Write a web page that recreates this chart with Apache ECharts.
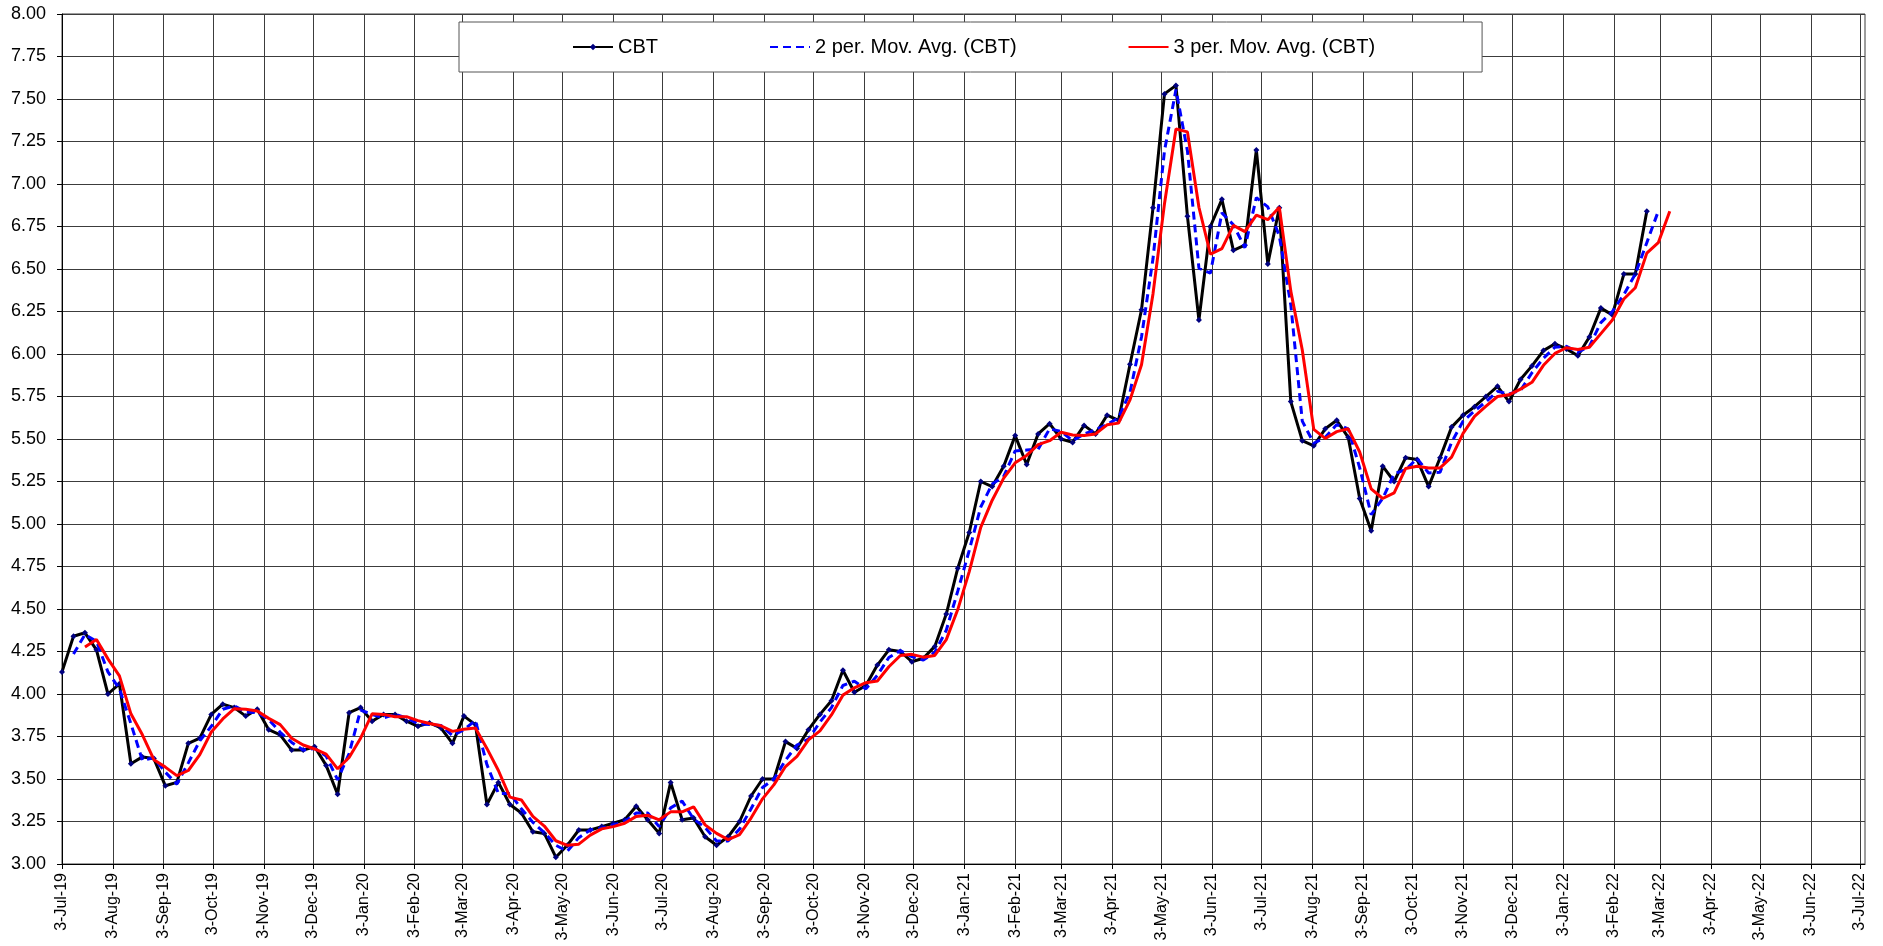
<!DOCTYPE html>
<html>
<head>
<meta charset="utf-8">
<title>CBT</title>
<script src="https://cdn.jsdelivr.net/npm/echarts@6/dist/echarts.min.js"></script>
<style>
  html, body { margin: 0; padding: 0; background: #fff; }
  #chart { width: 1883px; height: 946px; }
</style>
</head>
<body>
<div id="chart"></div>
<script>
// weekly CBT prices, first point 3-Jul-19, one point per week
var firstWeek = [2019, 6, 3];
var cbt = [
	4.13, 4.34, 4.36, 4.26, 4.00, 4.06, 3.59, 3.63, 3.62, 3.46,
	3.48, 3.71, 3.74, 3.88, 3.94, 3.92, 3.87, 3.91, 3.79, 3.76,
	3.67, 3.67, 3.69, 3.58, 3.41, 3.89, 3.92, 3.84, 3.88, 3.88,
	3.84, 3.81, 3.83, 3.80, 3.71, 3.87, 3.82, 3.35, 3.48, 3.35,
	3.30, 3.19, 3.18, 3.04, 3.11, 3.20, 3.20, 3.22, 3.24, 3.26,
	3.34, 3.26, 3.18, 3.48, 3.26, 3.27, 3.16, 3.11, 3.16, 3.25,
	3.40, 3.50, 3.50, 3.72, 3.68, 3.79, 3.88, 3.96, 4.14, 4.01,
	4.05, 4.17, 4.26, 4.25, 4.19, 4.21, 4.28, 4.47, 4.74, 4.95,
	5.25, 5.22, 5.34, 5.52, 5.35, 5.53, 5.59, 5.50, 5.48, 5.58,
	5.53, 5.64, 5.61, 5.94, 6.26, 6.86, 7.53, 7.58, 6.81, 6.20,
	6.75, 6.91, 6.61, 6.64, 7.20, 6.53, 6.86, 5.72, 5.49, 5.46,
	5.56, 5.61, 5.51, 5.15, 4.96, 5.34, 5.25, 5.39, 5.38, 5.22,
	5.39, 5.57, 5.64, 5.69, 5.75, 5.81, 5.72, 5.85, 5.93, 6.02,
	6.06, 6.03, 5.99, 6.10, 6.27, 6.23, 6.47, 6.47, 6.84
];
// the sheet has two empty weeks after the last price
var blankWeeks = 2;
var monthNames = ['Jan','Feb','Mar','Apr','May','Jun','Jul','Aug','Sep','Oct','Nov','Dec'];
var axisStart = [2019, 6, 3];
var axisEnd = [2022, 6, 6];
var tickMonths = 37; // 3-Jul-19 .. 3-Jul-22

var weeks = cbt.length + blankWeeks;
var weekDates = [];
for(var i=0; i<weeks; i++){
	weekDates.push(new Date(firstWeek[0], firstWeek[1], firstWeek[2] + 7*i).getTime());
}
var padded = cbt.slice();
for(var i=0; i<blankWeeks; i++){
	padded.push(null);
}

// excel style moving average trendline (blank cells are skipped)
function movAvg(values, period){
	var out = [];
	for(var i=0; i<values.length; i++){
		if(i < period-1){
			out.push([weekDates[i], null]);
			continue;
		}
		var sum = 0, n = 0;
		for(var j=i-period+1; j<=i; j++){
			if(values[j] != null){
				sum += values[j];
				n++;
			}
		}
		out.push([weekDates[i], n ? sum/n : null]);
	}
	return out;
}

var cbtData = [];
for(var i=0; i<cbt.length; i++){
	cbtData.push([weekDates[i], cbt[i]]);
}
var ticks = [];
for(var m=0; m<tickMonths; m++){
	ticks.push(new Date(axisStart[0], axisStart[1]+m, axisStart[2]).getTime());
}

function dateLabel(v){
	var d = new Date(v);
	return d.getDate() + '-' + monthNames[d.getMonth()] + '-' + String(d.getFullYear()).slice(2);
}

var font = "'Liberation Sans', Arial, sans-serif";
var gridColor = '#3c3c3c';

var chart = echarts.init(document.getElementById('chart'), null, {renderer: 'canvas'});
var option = {
	animation: false,
	backgroundColor: '#fff',
	textStyle: { fontFamily: font, color: '#000' },
	grid: {
		left: 62, right: 18, top: 14, bottom: 82,
		show: true, borderColor: gridColor, borderWidth: 1
	},
	legend: {
		left: 459, top: 22,
		padding: [15, 107, 15, 113],
		itemGap: 111,
		itemWidth: 40,
		itemHeight: 8,
		backgroundColor: '#fff',
		borderColor: '#555',
		borderWidth: 1,
		textStyle: { fontSize: 20, color: '#000', fontFamily: font },
		data: [
			'CBT',
			{ name: '2 per. Mov. Avg. (CBT)', itemStyle: { opacity: 0 } },
			{ name: '3 per. Mov. Avg. (CBT)', itemStyle: { opacity: 0 } }
		]
	},
	xAxis: {
		type: 'value',
		scale: true,
		min: new Date(axisStart[0], axisStart[1], axisStart[2]).getTime(),
		max: new Date(axisEnd[0], axisEnd[1], axisEnd[2]).getTime(),
		axisLine: { show: true, onZero: false, lineStyle: { color: '#000', width: 1 } },
		axisTick: { show: true, length: 5, customValues: ticks, lineStyle: { color: '#000' } },
		axisLabel: {
			customValues: ticks,
			rotate: 90,
			margin: 9,
			fontSize: 16,
			color: '#000',
			fontFamily: font,
			formatter: dateLabel
		},
		splitLine: { show: true, lineStyle: { color: gridColor, width: 1 } }
	},
	yAxis: {
		type: 'value',
		min: 3,
		max: 8,
		interval: 0.25,
		axisLine: { show: true, lineStyle: { color: '#000', width: 1 } },
		axisTick: { show: true, length: 5, lineStyle: { color: '#000' } },
		axisLabel: {
			fontSize: 18,
			margin: 16,
			color: '#000',
			fontFamily: font,
			formatter: function(v){ return v.toFixed(2); }
		},
		splitLine: { show: true, lineStyle: { color: gridColor, width: 1 } }
	},
	series: [
		{
			name: 'CBT',
			type: 'line',
			data: cbtData,
			symbol: 'diamond',
			symbolSize: 6,
			showAllSymbol: true,
			itemStyle: { color: '#000080' },
			lineStyle: { color: '#000', width: 3 },
			z: 2
		},
		{
			name: '2 per. Mov. Avg. (CBT)',
			type: 'line',
			data: movAvg(padded, 2),
			symbol: 'none',
			itemStyle: { color: '#0000ff' },
			lineStyle: { color: '#0000ff', width: 3, type: [8, 5] },
			z: 3
		},
		{
			name: '3 per. Mov. Avg. (CBT)',
			type: 'line',
			data: movAvg(padded, 3),
			symbol: 'none',
			itemStyle: { color: '#ff0000' },
			lineStyle: { color: '#ff0000', width: 3 },
			z: 4
		}
	]
};
chart.setOption(option);
</script>
</body>
</html>
